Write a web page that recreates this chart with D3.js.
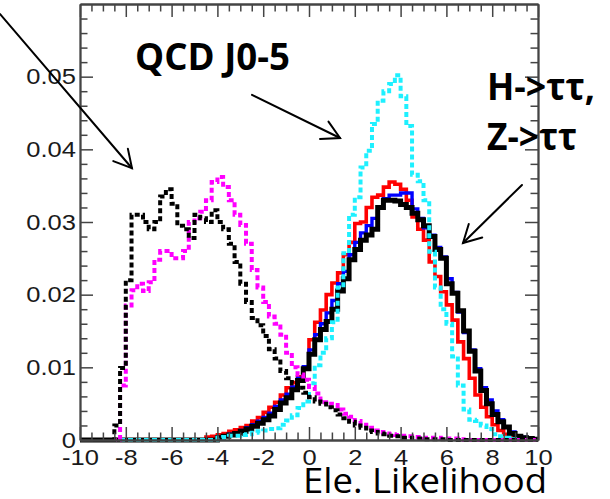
<!DOCTYPE html>
<html><head><meta charset="utf-8">
<script src="https://cdn.jsdelivr.net/npm/d3@7"></script>
<style>html,body{margin:0;padding:0;background:#fff;} svg{display:block;}</style>
</head><body>
<svg id="c" width="610" height="499"></svg>
<script>
// ---- data ----
const xTicks = [-10,-8,-6,-4,-2,0,2,4,6,8,10];
const xTickLabels = ["-10","-8","-6","-4","-2","0","2","4","6","8","10"];
const yTicks = [0,0.01,0.02,0.03,0.04,0.05];
const yTickLabels = ["0","0.01","0.02","0.03","0.04","0.05"];
const binWidth = 0.25;

// QCD black dashed (first bin low edge, then bin contents)
const qcdBlackStart = -8.5;
const qcdBlack = [0.002,0.0099,0.022,0.031,0.031,0.030,0.029,0.030,0.0335,0.0345,0.0325,0.0295,0.029,0.0278,0.031,0.0305,0.030,0.0316,0.030,0.029,0.027,0.0245,0.0215,0.019,0.0168,0.0158,0.0143,0.0125,0.0112,0.0095,0.0085,0.0078,0.0072,0.0065,0.0059,0.0053,0.005,0.0045,0.0041,0.0035,0.003,0.0025,0.002,0.0017,0.0013,0.0011,0.0009,0.0008,0.0006,0.0005,0.0003,0.0003,0.0002,0.0002,0.0001,0.0001,0.0001,0.0001];

const qcdMagentaStart = -8.25;
const qcdMagenta = [0.0075,0.0185,0.0206,0.0215,0.0205,0.0217,0.0248,0.026,0.026,0.025,0.025,0.026,0.030,0.0305,0.0314,0.033,0.0355,0.0362,0.0348,0.033,0.031,0.0296,0.027,0.0234,0.021,0.019,0.017,0.016,0.0145,0.012,0.010,0.009,0.0083,0.0073,0.0064,0.0052,0.005,0.0048,0.0042,0.0036,0.0032,0.0026,0.0021,0.0017,0.0013,0.0011,0.0009,0.0008,0.0007,0.0006,0.0005,0.0004,0.0004,0.0003,0.0003,0.0003,0.0002,0.0002,0.0002,0.0001];

const qcdCyanStart = -4.0;
const qcdCyan = [0.0003,0.0004,0.0006,0.0006,0.0007,0.0008,0.001,0.0012,0.0013,0.0015,0.0016,0.0021,0.0027,0.0034,0.0044,0.0053,0.0078,0.0103,0.012,0.014,0.0162,0.021,0.0257,0.031,0.0334,0.0375,0.0398,0.0435,0.0467,0.048,0.049,0.0502,0.0473,0.0432,0.0365,0.0356,0.033,0.0259,0.021,0.018,0.016,0.0115,0.0075,0.0042,0.0028,0.0026,0.002,0.0015,0.0008,0.0005,0.0003,0.0001];

const sigRedStart = -4.5;
const sigRed = [0.0004,0.0005,0.0007,0.0009,0.0012,0.0014,0.0017,0.002,0.0026,0.0031,0.0038,0.0045,0.0052,0.0062,0.0072,0.0079,0.0087,0.0098,0.0138,0.0162,0.0179,0.020,0.0216,0.023,0.0255,0.0272,0.0298,0.030,0.032,0.0334,0.0337,0.0348,0.0355,0.0352,0.0345,0.033,0.0307,0.029,0.0275,0.0245,0.0225,0.0204,0.0186,0.0165,0.0135,0.0112,0.0085,0.0062,0.0045,0.0032,0.0021,0.0013,0.0008,0.0005,0.0002,0.0001];

const sigBlueStart = -4.0;
const sigBlue = [0.0004,0.0006,0.0008,0.001,0.0013,0.0017,0.0021,0.0026,0.0031,0.0037,0.0046,0.0055,0.0063,0.0073,0.0085,0.0101,0.0124,0.0145,0.016,0.0175,0.0192,0.0215,0.0232,0.0255,0.0272,0.0285,0.0295,0.0305,0.032,0.0332,0.0337,0.0337,0.034,0.034,0.0318,0.0305,0.0292,0.0282,0.0265,0.0252,0.0222,0.0203,0.0176,0.0148,0.0124,0.0098,0.0072,0.0055,0.004,0.0028,0.0018,0.0011,0.0006,0.0004,0.0002,0.0001];

const sigBlackStart = -4.0;
const sigBlack = [0.0003,0.0005,0.0007,0.0009,0.0012,0.0015,0.0019,0.0023,0.0028,0.0033,0.0042,0.0051,0.0058,0.0069,0.0082,0.0098,0.0118,0.0138,0.0152,0.0163,0.018,0.0205,0.0222,0.0248,0.0262,0.0275,0.0282,0.029,0.032,0.033,0.033,0.0329,0.0324,0.032,0.0312,0.0303,0.0295,0.028,0.0262,0.025,0.0215,0.0202,0.0178,0.015,0.0122,0.0095,0.0068,0.005,0.0035,0.0025,0.0018,0.0009,0.0005,0.0003,0.0002,0.0001];

// annotation arrows in data coordinates: [tailX, tailY, tipX, tipY]
const arrows = [
  [-13.49, 0.0586, -7.73, 0.0374],
  [-2.49, 0.0475, 1.354, 0.04156],
  [9.30, 0.0351, 6.725, 0.0271]
];

// ---- chart ----
const svg = d3.select("#c");
const x = d3.scaleLinear().domain([-10,10]).range([80,538]);
const y = d3.scaleLinear().domain([0,0.06]).range([440,4]);

function bins(start, vals){
  const out=[];
  const n = Math.round(20/binWidth);
  for(let i=0;i<n;i++){
    const lo=-10+i*binWidth;
    const k=Math.round((lo-start)/binWidth);
    const v=(k>=0&&k<vals.length)?vals[k]:0;
    out.push([lo,v],[lo+binWidth,v]);
  }
  return out;
}
const line = d3.line().x(d=>x(d[0])).y(d=>y(d[1]));

const series = [
  {vals:sigRed, start:sigRedStart, color:"#ff0000", w:3.6, dash:null},
  {vals:sigBlue, start:sigBlueStart, color:"#0000ff", w:3.4, dash:null},
  {vals:sigBlack, start:sigBlackStart, color:"#000000", w:5, dash:null},
  {vals:qcdCyan, start:qcdCyanStart, color:"#1ef0ff", w:4, dash:"5,3"},
  {vals:qcdMagenta, start:qcdMagentaStart, color:"#ff00ff", w:4, dash:"5,3"},
  {vals:qcdBlack, start:qcdBlackStart, color:"#000000", w:4, dash:"5,3"}
];
svg.append("g").selectAll("path").data(series).join("path")
  .attr("d", s=>line(bins(s.start,s.vals)))
  .attr("fill","none").attr("stroke",s=>s.color).attr("stroke-width",s=>s.w)
  .attr("stroke-dasharray",s=>s.dash).attr("stroke-linejoin","miter");

// axes
const axisColor="#444";
const minorX = d3.range(-10,10.001,0.5).filter(v=>Math.abs(v/2-Math.round(v/2))>1e-6);
const minorY = d3.range(0,0.0601,0.002).filter(v=>Math.abs(v/0.01-Math.round(v/0.01))>1e-6);
const fmtX = (d)=>xTickLabels[xTicks.indexOf(d)];
const fmtY = (d)=>yTickLabels[yTicks.findIndex(t=>Math.abs(t-d)<1e-9)];

function styleAxis(g){
  g.select(".domain").attr("stroke",axisColor).attr("stroke-width",1.8);
  g.selectAll(".tick line").attr("stroke",axisColor).attr("stroke-width",1.5);
  g.selectAll("text").attr("fill","#1a1a1a").style("font-family","'Liberation Sans',Arial,sans-serif").style("font-size","22px").attr("transform","scale(1.16,1)");
}
// bottom
svg.append("g").attr("transform","translate(0,440)")
  .call(d3.axisBottom(x).tickValues(xTicks).tickFormat(fmtX).tickSize(-13).tickSizeOuter(0).tickPadding(9)).call(styleAxis);
svg.append("g").attr("transform","translate(0,440)")
  .call(d3.axisBottom(x).tickValues(minorX).tickFormat("").tickSize(-7.5).tickSizeOuter(0)).call(styleAxis);
// top
svg.append("g").attr("transform","translate(0,4)")
  .call(d3.axisTop(x).tickValues(xTicks).tickFormat("").tickSize(-13).tickSizeOuter(0)).call(styleAxis);
svg.append("g").attr("transform","translate(0,4)")
  .call(d3.axisTop(x).tickValues(minorX).tickFormat("").tickSize(-7.5).tickSizeOuter(0)).call(styleAxis);
// left
svg.append("g").attr("transform","translate(80,0)")
  .call(d3.axisLeft(y).tickValues(yTicks).tickFormat(fmtY).tickSize(-13).tickSizeOuter(0).tickPadding(3.5)).call(styleAxis);
svg.append("g").attr("transform","translate(80,0)")
  .call(d3.axisLeft(y).tickValues(minorY).tickFormat("").tickSize(-7.5).tickSizeOuter(0)).call(styleAxis);
// right
svg.append("g").attr("transform","translate(538,0)")
  .call(d3.axisRight(y).tickValues(yTicks).tickFormat("").tickSize(-13).tickSizeOuter(0)).call(styleAxis);
svg.append("g").attr("transform","translate(538,0)")
  .call(d3.axisRight(y).tickValues(minorY).tickFormat("").tickSize(-7.5).tickSizeOuter(0)).call(styleAxis);

// annotations
const ann = svg.append("g").style("font-family","'Open Sans','Noto Sans',sans-serif");
ann.append("text").attr("x",135).attr("y",70).attr("font-weight","bold").attr("font-size",37)
  .attr("textLength",155).attr("lengthAdjust","spacingAndGlyphs").text("QCD J0-5");
ann.append("text").attr("x",487).attr("y",100).attr("font-weight","bold").attr("font-size",37)
  .attr("textLength",108).attr("lengthAdjust","spacingAndGlyphs").text("H->ττ,");
ann.append("text").attr("x",487).attr("y",150).attr("font-weight","bold").attr("font-size",37)
  .attr("textLength",90).attr("lengthAdjust","spacingAndGlyphs").text("Z->ττ");
ann.append("text").attr("x",303).attr("y",493).attr("font-size",34)
  .attr("textLength",244).attr("lengthAdjust","spacingAndGlyphs").text("Ele. Likelihood");

// arrows
const ag = svg.append("g").attr("stroke","#000").attr("stroke-width",2).attr("fill","none").attr("stroke-linecap","round");
arrows.forEach(a=>{
  const x0=x(a[0]), y0=y(a[1]), x1=x(a[2]), y1=y(a[3]);
  ag.append("line").attr("x1",x0).attr("y1",y0).attr("x2",x1).attr("y2",y1);
  const ang=Math.atan2(y0-y1,x0-x1), L=20, h=0.5;
  const pts=[[x1+L*Math.cos(ang+h),y1+L*Math.sin(ang+h)],[x1,y1],[x1+L*Math.cos(ang-h),y1+L*Math.sin(ang-h)]];
  ag.append("path").attr("d",d3.line()(pts));
});
</script>
</body></html>
